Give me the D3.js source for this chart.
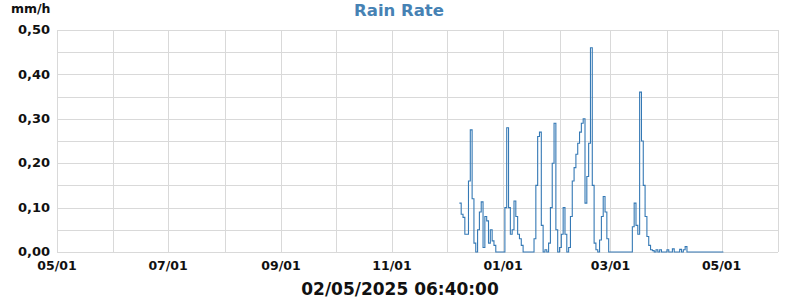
<!DOCTYPE html>
<html>
<head>
<meta charset="utf-8">
<script src="https://cdn.jsdelivr.net/npm/d3@7"></script>
<style>
  body { margin: 0; background: #fff; }
  text { font-family: "DejaVu Sans", sans-serif; font-weight: bold; }
</style>
</head>
<body>
<div id="chart"></div>
<script>
// daily rain rate (mm/h), first value on 2024-12-08
var startDate = "2024-12-08";
var rainRate = [
  0.11, 0.085, 0.078, 0.04, 0.04, 0.16, 0.275, 0.12, 0.02, 0,
  0.05, 0.09, 0.113, 0.01, 0.08, 0.07, 0.02, 0.05, 0.025, 0.015,
  0, 0, 0, 0, 0, 0.1, 0.28, 0.1, 0.04, 0.05,
  0.115, 0.08, 0.04, 0.03, 0.015, 0, 0, 0, 0, 0,
  0, 0.03, 0.15, 0.26, 0.27, 0.06, 0, 0.005, 0, 0.02,
  0.1, 0.2, 0.29, 0.05, 0, 0.01, 0.04, 0.1, 0.04, 0,
  0.01, 0.08, 0.16, 0.19, 0.22, 0.245, 0.27, 0.29, 0.3, 0.11,
  0.17, 0.245, 0.46, 0.15, 0.02, 0.005, 0, 0.027, 0.08, 0.125,
  0.09, 0.03, 0, 0, 0, 0, 0, 0, 0, 0,
  0, 0, 0, 0, 0, 0.057, 0.11, 0.06, 0.04, 0.36,
  0.25, 0.15, 0.08, 0.035, 0.015, 0.005, 0.003, 0, 0.005, 0,
  0.005, 0, 0, 0, 0.005, 0, 0, 0.007, 0, 0,
  0, 0.006, 0, 0.005, 0.012, 0, 0, 0, 0, 0,
  0, 0, 0, 0, 0, 0, 0, 0, 0, 0,
  0, 0, 0, 0, 0, 0
];
var xDomain = ["2024-05-01", "2025-06-01"];
var yMax = 0.5;
var title = "Rain Rate";
var unit = "mm/h";
var stamp = "02/05/2025 06:40:00";

var W = 800, H = 300;
var margin = { top: 30, right: 22, bottom: 48, left: 57 };
var width = W - margin.left - margin.right,
    height = H - margin.top - margin.bottom;

var parse = d3.timeParse("%Y-%m-%d");
var t0 = parse(startDate);
var data = rainRate.map(function (v, i) {
  return { date: d3.timeDay.offset(t0, i), value: v };
});

var svg = d3.select("#chart").append("svg")
  .attr("width", W).attr("height", H);

var x = d3.scaleTime()
  .domain(xDomain.map(parse))
  .range([0, width]);
var y = d3.scaleLinear()
  .domain([0, yMax])
  .range([height, 0]);

var g = svg.append("g")
  .attr("transform", "translate(" + margin.left + "," + margin.top + ")");

// grid
var months = d3.timeMonth.range(x.domain()[0], d3.timeDay.offset(x.domain()[1], 1));
g.append("g").selectAll("line")
  .data(months).enter().append("line")
  .attr("x1", function (d) { return Math.round(x(d)) + 0.5; })
  .attr("x2", function (d) { return Math.round(x(d)) + 0.5; })
  .attr("y1", 0).attr("y2", height)
  .attr("stroke", "#d9d9d9");

var yGrid = d3.range(0, yMax + 0.001, 0.05);
g.append("g").selectAll("line")
  .data(yGrid).enter().append("line")
  .attr("x1", 0).attr("x2", width)
  .attr("y1", function (d) { return Math.round(y(d)) + 0.5; })
  .attr("y2", function (d) { return Math.round(y(d)) + 0.5; })
  .attr("stroke", "#d9d9d9");

// y labels
var fmt = d3.formatLocale({ decimal: ",", thousands: ".", grouping: [3], currency: ["", ""] }).format(".2f");
g.append("g").selectAll("text")
  .data(d3.range(0, yMax + 0.001, 0.1)).enter().append("text")
  .attr("x", -7)
  .attr("y", function (d) { return y(d); })
  .attr("dy", "0.32em")
  .attr("text-anchor", "end")
  .attr("font-size", 13)
  .attr("fill", "#111")
  .text(function (d) { return fmt(d); });

// x labels
g.append("g").selectAll("text")
  .data(months.filter(function (d, i) { return i % 2 === 0 && d <= x.domain()[1]; }))
  .enter().append("text")
  .attr("x", function (d) { return x(d); })
  .attr("y", height + 18)
  .attr("text-anchor", "middle")
  .attr("font-size", 12.5)
  .attr("fill", "#111")
  .text(d3.timeFormat("%m/%d"));

// series
var line = d3.line()
  .x(function (d) { return x(d.date); })
  .y(function (d) { return y(d.value); })
  .curve(d3.curveStepAfter);

g.append("path")
  .datum(data)
  .attr("fill", "none")
  .attr("stroke", "#3579b5")
  .attr("stroke-width", 1.1)
  .attr("d", line);

// texts
svg.append("text")
  .attr("x", 399).attr("y", 16)
  .attr("text-anchor", "middle")
  .attr("font-size", 16.5)
  .attr("fill", "#4682b4")
  .text(title);

svg.append("text")
  .attr("x", 11).attr("y", 13)
  .attr("font-size", 12.5)
  .attr("fill", "#111")
  .text(unit);

svg.append("text")
  .attr("x", 400).attr("y", 295)
  .attr("text-anchor", "middle")
  .attr("font-size", 17)
  .attr("fill", "#111")
  .text(stamp);
</script>
</body>
</html>
